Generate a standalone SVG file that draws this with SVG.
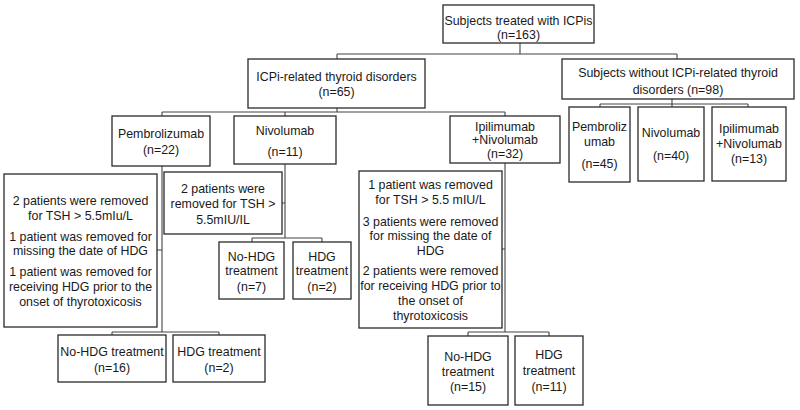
<svg xmlns="http://www.w3.org/2000/svg" width="800" height="410" viewBox="0 0 800 410">
<style>
.b{fill:#fff;stroke:#2a2a2a;stroke-width:1.3}
.c{fill:none;stroke:#444;stroke-width:1.1}
text{font-family:"Liberation Sans",Arial,sans-serif;font-size:12.4px;fill:#1a1a1a;text-anchor:middle}
</style>
<rect width="800" height="410" fill="#fff"/>
<g id="connectors">
<path class="c" d="M520 43V54M337 54H677M337 54V59M677 54V59"/>
<path class="c" d="M337 108V112M162 112H505M162 112V116M285 112V116M505 112V116"/>
<path class="c" d="M672 99V104M600 104H748M600 104V107M672 104V107M748 104V107"/>
<path class="c" d="M162 166V332M157 250H162M112 332H219M112 332V335M219 332V335"/>
<path class="c" d="M285 164V238M282 203H285M252 238H322M252 238V242M322 238V242"/>
<path class="c" d="M505 163V332M502 249H505M468 332H549M468 332V336M549 332V336"/>
</g>
<g id="root"><rect class="b" x="443" y="5" width="151" height="38"/><text x="518.5" y="25">Subjects treated with ICPis</text><text x="518.5" y="38.5">(n=163)</text></g>
<g id="related"><rect class="b" x="248" y="59" width="177" height="49"/><text x="336.5" y="80.5">ICPi-related thyroid disorders</text><text x="336.5" y="95.5">(n=65)</text></g>
<g id="without"><rect class="b" x="562" y="59" width="232" height="40"/><text x="678" y="77">Subjects without ICPi-related thyroid</text><text x="678" y="94">disorders (n=98)</text></g>
<g id="pembro"><rect class="b" x="112" y="116" width="98" height="50"/><text x="161" y="137.5">Pembrolizumab</text><text x="161" y="153.5">(n=22)</text></g>
<g id="nivo"><rect class="b" x="234" y="116" width="102" height="48"/><text x="285" y="134.5">Nivolumab</text><text x="285" y="155.5">(n=11)</text></g>
<g id="ipinivo"><rect class="b" x="450" y="116" width="110" height="47"/><text x="505" y="130.5">Ipilimumab</text><text x="505" y="143.5">+Nivolumab</text><text x="505" y="157.5">(n=32)</text></g>
<g id="pembro-r"><rect class="b" x="569" y="107" width="61" height="75"/><text x="599.5" y="130.5">Pembroliz</text><text x="599.5" y="146">umab</text><text x="599.5" y="167.5">(n=45)</text></g>
<g id="nivo-r"><rect class="b" x="638" y="107" width="66" height="74"/><text x="671" y="137">Nivolumab</text><text x="671" y="159.5">(n=40)</text></g>
<g id="ipinivo-r"><rect class="b" x="712" y="107" width="74" height="74"/><text x="749" y="132.5">Ipilimumab</text><text x="749" y="147.5">+Nivolumab</text><text x="749" y="162.5">(n=13)</text></g>
<g id="excl-pembro"><rect class="b" x="4" y="174" width="153" height="153"/>
<text x="80.5" y="205">2 patients were removed</text><text x="80.5" y="220">for TSH &gt; 5.5mIu/L</text>
<text x="80.5" y="240.5">1 patient was removed for</text><text x="80.5" y="255">missing the date of HDG</text>
<text x="80.5" y="276">1 patient was removed for</text><text x="80.5" y="291">receiving HDG prior to the</text><text x="80.5" y="306">onset of thyrotoxicosis</text></g>
<g id="excl-nivo"><rect class="b" x="164" y="172" width="118" height="62"/>
<text x="223" y="193">2 patients were</text><text x="223" y="208">removed for TSH &gt;</text><text x="223" y="223.5">5.5mIU/IL</text></g>
<g id="excl-ipi"><rect class="b" x="359" y="171" width="143" height="157"/>
<text x="430.5" y="188.5">1 patient was removed</text><text x="430.5" y="204">for TSH &gt; 5.5 mIU/L</text>
<text x="430.5" y="225.5">3 patients were removed</text><text x="430.5" y="240">for missing the date of</text><text x="430.5" y="254.5">HDG</text>
<text x="430.5" y="274.5">2 patients were removed</text><text x="430.5" y="289.5">for receiving HDG prior to</text><text x="430.5" y="304.5">the onset of</text><text x="430.5" y="319.5">thyrotoxicosis</text></g>
<g id="nohdg-pembro"><rect class="b" x="58" y="335" width="108" height="47"/><text x="112" y="356">No-HDG treatment</text><text x="112" y="372">(n=16)</text></g>
<g id="hdg-pembro"><rect class="b" x="173" y="335" width="92" height="47"/><text x="219" y="356">HDG treatment</text><text x="219" y="372">(n=2)</text></g>
<g id="nohdg-nivo"><rect class="b" x="219" y="242" width="65" height="57"/><text x="251.5" y="260.5">No-HDG</text><text x="251.5" y="274.5">treatment</text><text x="251.5" y="290.5">(n=7)</text></g>
<g id="hdg-nivo"><rect class="b" x="293" y="242" width="58" height="57"/><text x="322" y="260.5">HDG</text><text x="322" y="274.5">treatment</text><text x="322" y="290.5">(n=2)</text></g>
<g id="nohdg-ipi"><rect class="b" x="428" y="336" width="80" height="69"/><text x="468" y="360.5">No-HDG</text><text x="468" y="375.5">treatment</text><text x="468" y="390.5">(n=15)</text></g>
<g id="hdg-ipi"><rect class="b" x="515" y="336" width="68" height="69"/><text x="549" y="359">HDG</text><text x="549" y="374.5">treatment</text><text x="549" y="390.5">(n=11)</text></g>
</svg>
